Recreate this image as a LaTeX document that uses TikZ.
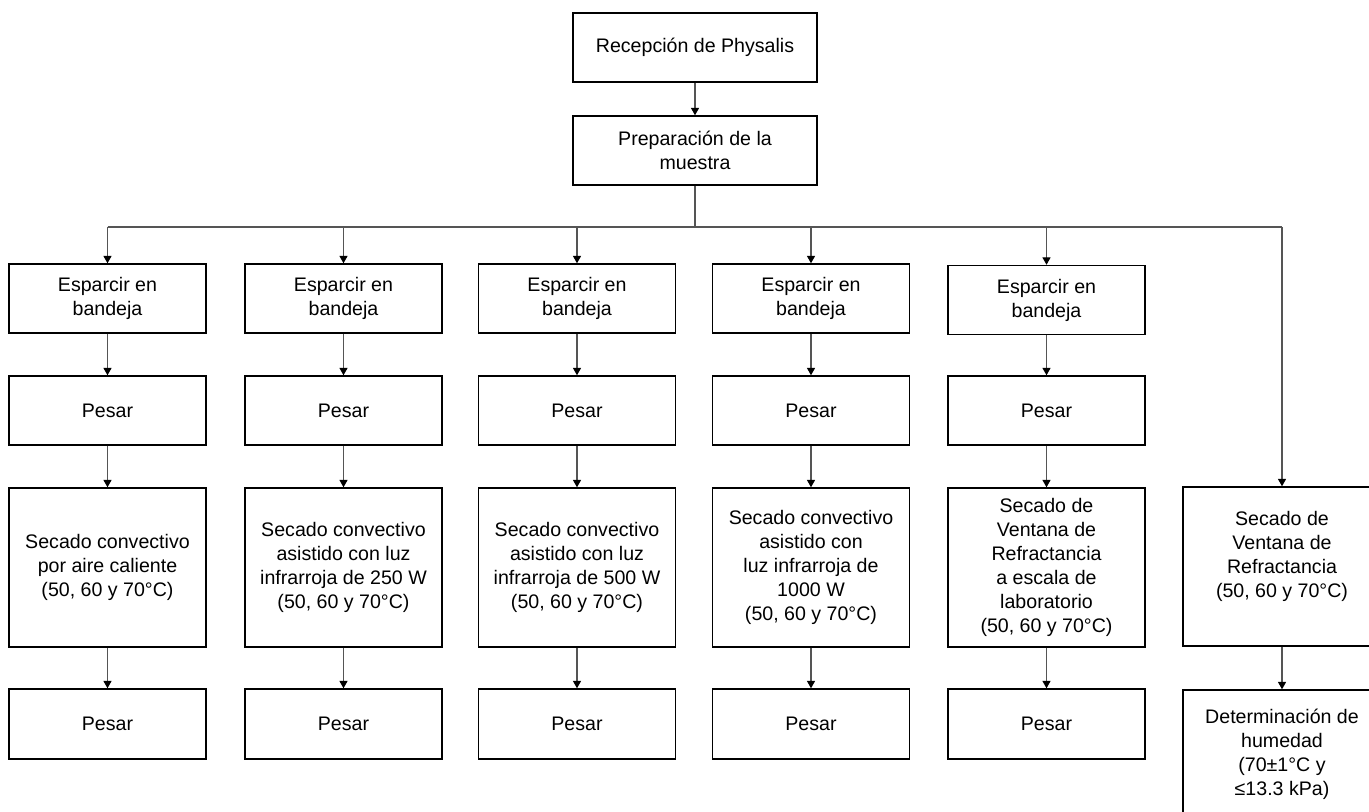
\documentclass[tikz,border=0pt]{standalone}
\usepackage{fontspec}
\setmainfont{Liberation Sans}
\usetikzlibrary{arrows.meta}
\definecolor{linegray}{RGB}{85,85,85}
\tikzset{
  box/.style={draw=black, line width=1.1pt, fill=white, align=center, inner sep=0pt,
    minimum width=147.75pt, minimum height=51.75pt,
    font=\fontsize{14.7}{18}\selectfont},
  tallbox/.style={box, minimum height=119.25pt},
  conn/.style={draw=linegray, line width=0.8pt},
  arr/.style={conn, -{Triangle[width=6pt,length=5.5pt,color=black,fill=black]}}
}
\begin{document}
\begin{tikzpicture}[x=0.75pt,y=-0.75pt]
  \path[use as bounding box, clip] (0,0) rectangle (1369,812);

  % trunk
  \node[box, minimum width=183pt] (rec) at (695,47.5) {Recepción de Physalis};
  \node[box, minimum width=183pt] (prep) at (695,150.5) {Preparación de la\\muestra};
  \coordinate (bus) at (695,227);

  % column 1
  \node[box] (esp1) at (107.5,298.5) {Esparcir en\\bandeja};
  \node[box] (pes1) at (107.5,410.5) {Pesar};
  \node[tallbox] (sec1) at (107.5,567.5) {Secado convectivo\\por aire caliente\\(50, 60 y 70°C)};
  \node[box, minimum height=52.5pt] (fin1) at (107.5,724) {Pesar};

  % column 2
  \node[box] (esp2) at (343.5,298.5) {Esparcir en\\bandeja};
  \node[box] (pes2) at (343.5,410.5) {Pesar};
  \node[tallbox] (sec2) at (343.5,567.5) {Secado convectivo\\asistido con luz\\infrarroja de 250 W\\(50, 60 y 70°C)};
  \node[box, minimum height=52.5pt] (fin2) at (343.5,724) {Pesar};

  % column 3
  \node[box] (esp3) at (577,298.5) {Esparcir en\\bandeja};
  \node[box] (pes3) at (577,410.5) {Pesar};
  \node[tallbox] (sec3) at (577,567.5) {Secado convectivo\\asistido con luz\\infrarroja de 500 W\\(50, 60 y 70°C)};
  \node[box, minimum height=52.5pt] (fin3) at (577,724) {Pesar};

  % column 4
  \node[box] (esp4) at (811,298.5) {Esparcir en\\bandeja};
  \node[box] (pes4) at (811,410.5) {Pesar};
  \node[tallbox] (sec4) at (811,567.5) {Secado convectivo\\asistido con\\luz infrarroja de\\1000 W\\(50, 60 y 70°C)};
  \node[box, minimum height=52.5pt] (fin4) at (811,724) {Pesar};

  % column 5
  \node[box] (esp5) at (1046.5,300) {Esparcir en\\bandeja};
  \node[box] (pes5) at (1046.5,410.5) {Pesar};
  \node[tallbox] (sec5) at (1046.5,567.5) {Secado de\\Ventana de\\Refractancia\\a escala de\\laboratorio\\(50, 60 y 70°C)};
  \node[box, minimum height=52.5pt] (fin5) at (1046.5,724) {Pesar};

  % column 6
  \node[tallbox, minimum width=148.5pt] (sec6) at (1282,566.5) {Secado de\\Ventana de\\Refractancia\\(50, 60 y 70°C)\\\mbox{}};
  \node[box, minimum width=148.5pt, minimum height=96pt] (hum) at (1282,754) {Determinación de\\humedad\\(70±1°C y\\≤13.3 kPa)};

  % connectors
  \draw[arr] (rec) -- (prep);
  \draw[conn] (prep.south) -- (bus);
  \draw[conn] (esp1.north |- bus) -- (sec6.north |- bus);
  \foreach \c in {1,...,5}{
    \draw[arr] (esp\c.north |- bus) -- (esp\c.north);
    \draw[arr] (esp\c) -- (pes\c);
    \draw[arr] (pes\c) -- (sec\c);
    \draw[arr] (sec\c) -- (fin\c);
  }
  \draw[arr] (sec6.north |- bus) -- (sec6.north);
  \draw[arr] (sec6) -- (hum);
\end{tikzpicture}
\end{document}
